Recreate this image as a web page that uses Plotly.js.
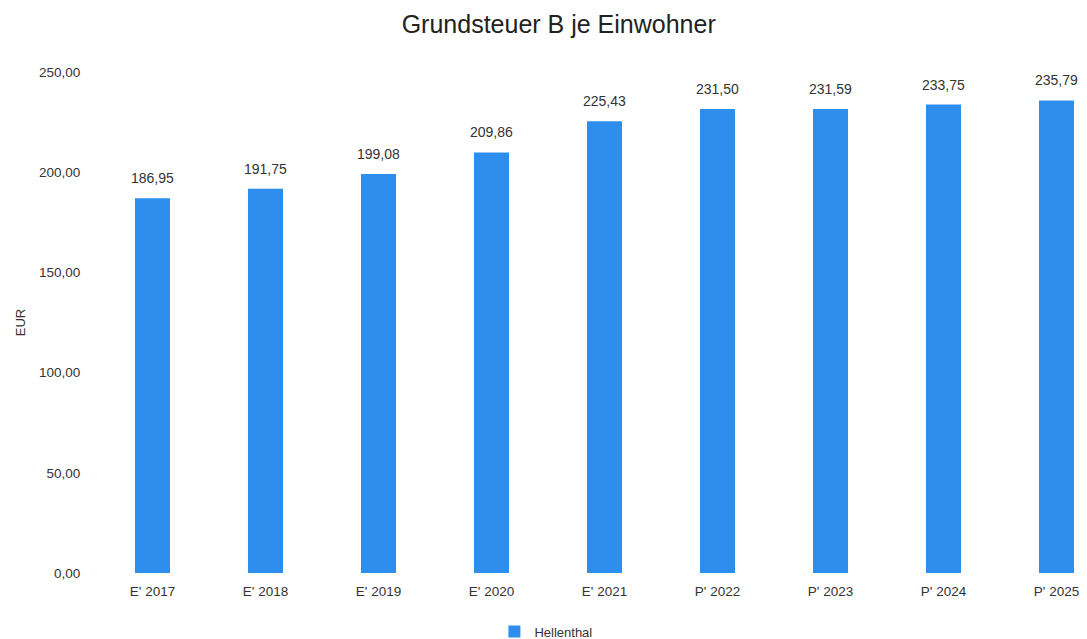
<!DOCTYPE html>
<html>
<head>
<meta charset="utf-8">
<script src="https://cdn.plot.ly/plotly-3.0.1.min.js"></script>
<style>html,body{margin:0;padding:0;background:#fff;}#chart{width:1087px;height:639px;}</style>
</head>
<body>
<div id="chart"></div>
<script>
const categories = ["E' 2017","E' 2018","E' 2019","E' 2020","E' 2021","P' 2022","P' 2023","P' 2024","P' 2025"];
const values = [186.95, 191.75, 199.08, 209.86, 225.43, 231.50, 231.59, 233.75, 235.79];
const seriesName = "Hellenthal";
const yTicks = [0, 50, 100, 150, 200, 250];

const fmt = v => v.toFixed(2).replace('.', ',');

const annotations = categories.map((c, i) => ({
  x: c, y: values[i], xref: 'x', yref: 'y',
  text: fmt(values[i]), showarrow: false,
  yshift: 20, font: {family: 'Liberation Sans, Arial', size: 14, color: '#333'}
}));

const trace = {
  type: 'bar', x: categories, y: values, name: seriesName,
  marker: {color: '#2e8eee'}, width: 0.31,
  hoverinfo: 'none'
};

const layout = {
  width: 1087, height: 639,
  margin: {l: 96, r: 0, t: 72, b: 66, autoexpand: false},
  paper_bgcolor: '#fff', plot_bgcolor: '#fff',
  separators: ',.',
  title: {text: 'Grundsteuer B je Einwohner', x: 0.514, xanchor: 'center', y: 0.962, yanchor: 'middle',
          font: {family: 'Liberation Sans, Arial', size: 25, color: '#222'}},
  xaxis: {type: 'category', range: [-0.5, 8.27], showgrid: false, zeroline: false, showline: false,
          ticks: 'outside', ticklen: 6, tickcolor: 'rgba(0,0,0,0)',
          tickfont: {family: 'Liberation Sans, Arial', size: 13.5, color: '#333'}},
  yaxis: {range: [0, 250], tickvals: yTicks, tickformat: '.2f', showgrid: false, zeroline: false, showline: false,
          ticks: 'outside', ticklen: 12, tickcolor: 'rgba(0,0,0,0)',
          tickfont: {family: 'Liberation Sans, Arial', size: 13.5, color: '#333'},
          title: {text: 'EUR', standoff: 10, font: {family: 'Liberation Sans, Arial', size: 13, color: '#333'}}},
  showlegend: true,
  legend: {orientation: 'h', x: 0.454, xanchor: 'center', y: -0.117, yanchor: 'middle',
           font: {family: 'Liberation Sans, Arial', size: 13, color: '#333'}, itemwidth: 30},
  annotations: annotations,
  bargap: 0.69
};

Plotly.newPlot('chart', [trace], layout, {displayModeBar: false, staticPlot: true});
</script>
</body>
</html>
